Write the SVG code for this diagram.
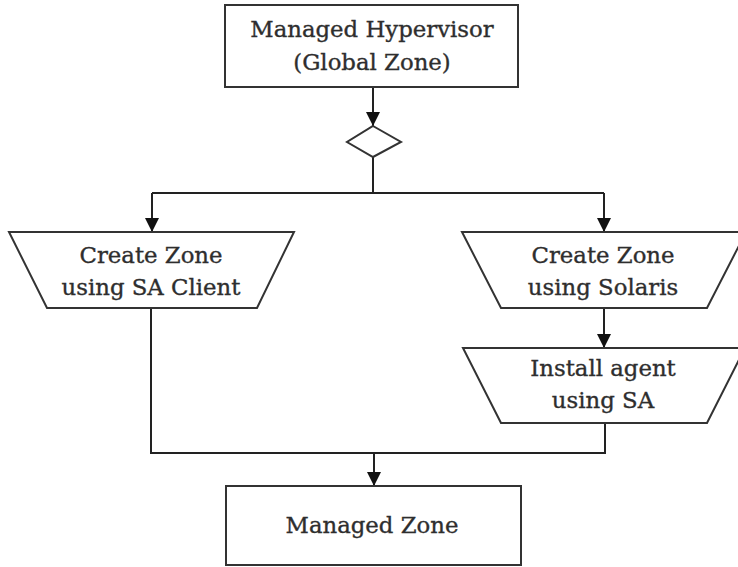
<svg xmlns="http://www.w3.org/2000/svg" width="738" height="567" viewBox="0 0 738 567">
<style>
.shape{fill:#fff;stroke:#333;stroke-width:2}
.conn{fill:none;stroke:#222;stroke-width:2}
.lbl{font-family:"DejaVu Serif","Liberation Serif",serif;font-size:22.8px;fill:#2e2e2e;stroke:#2e2e2e;stroke-width:0.35;text-anchor:middle}
</style>
<defs>
<marker id="arrow" markerUnits="userSpaceOnUse" markerWidth="14" markerHeight="15" refX="15" refY="7.5" orient="auto" viewBox="0 0 15 15">
<path d="M0,0 L15,7.5 L0,15 Z" fill="#111"/>
</marker>
</defs>
<rect width="738" height="567" fill="#fff"/>
<g id="connectors">
<path class="conn" d="M373,87 V126" marker-end="url(#arrow)"/>
<path class="conn" d="M373,157 V193"/>
<path class="conn" d="M152,193 H604"/>
<path class="conn" d="M152,193 V232" marker-end="url(#arrow)"/>
<path class="conn" d="M604,193 V232" marker-end="url(#arrow)"/>
<path class="conn" d="M604,308 V348" marker-end="url(#arrow)"/>
<path class="conn" d="M151,308 V453 H605 V423"/>
<path class="conn" d="M374,453 V486" marker-end="url(#arrow)"/>
</g>
<g id="hypervisor">
<rect class="shape" x="225" y="5" width="293" height="82"/>
<text class="lbl" x="372" y="37">Managed Hypervisor</text>
<text class="lbl" x="372" y="70">(Global Zone)</text>
</g>
<g id="decision">
<polygon class="shape" points="373,126 401,142 373,157 347,142"/>
</g>
<g id="create-sa-client">
<polygon class="shape" points="9,232 294,232 257,308 47,308"/>
<text class="lbl" x="151" y="263">Create Zone</text>
<text class="lbl" x="151" y="295">using SA Client</text>
</g>
<g id="create-solaris">
<polygon class="shape" points="462,232 746,232 707,308 501,308"/>
<text class="lbl" x="603" y="263">Create Zone</text>
<text class="lbl" x="603" y="295">using Solaris</text>
</g>
<g id="install-agent">
<polygon class="shape" points="463,348 745,348 707,423 501,423"/>
<text class="lbl" x="603" y="376">Install agent</text>
<text class="lbl" x="603" y="408">using SA</text>
</g>
<g id="managed-zone">
<rect class="shape" x="226" y="486" width="295" height="79"/>
<text class="lbl" x="372" y="533">Managed Zone</text>
</g>
</svg>
